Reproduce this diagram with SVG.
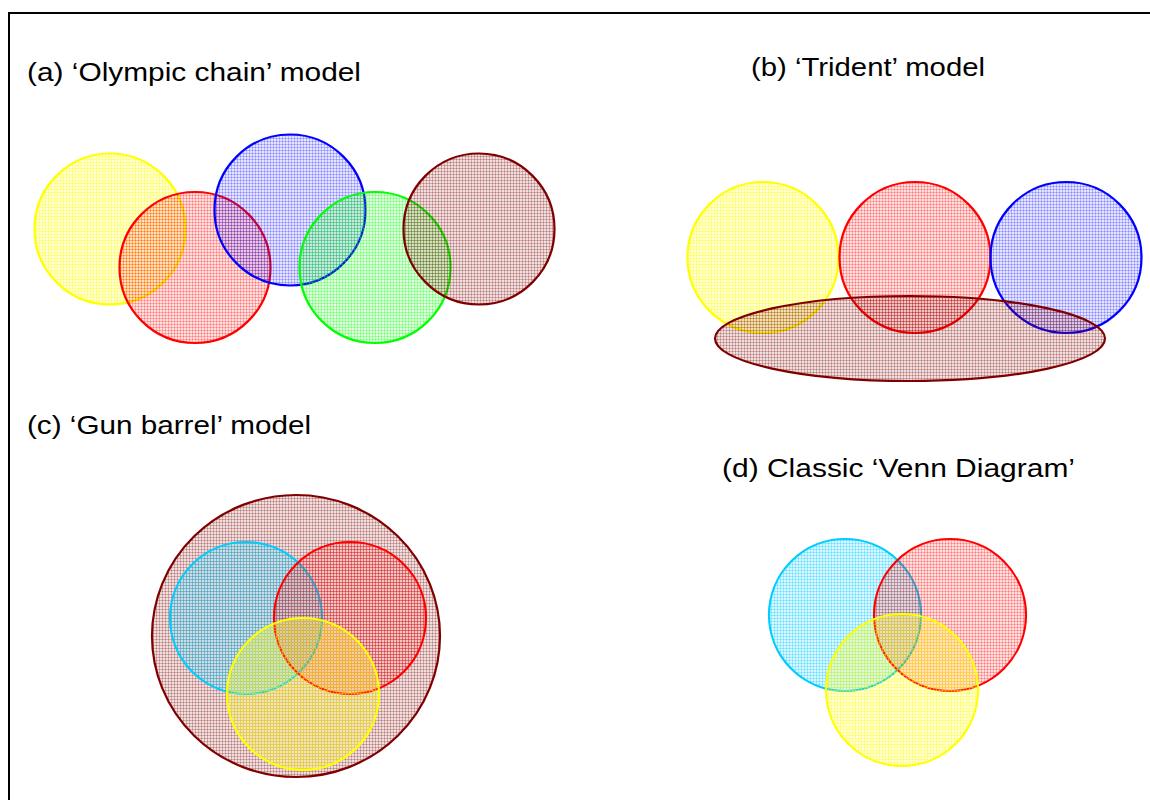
<svg xmlns="http://www.w3.org/2000/svg" width="1150" height="800" viewBox="0 0 1150 800">
<style>
  .lbl { font-family: "Liberation Sans", Arial, sans-serif; font-size: 25px; fill: #000; }
  .s { stroke-width: 2.2; }
</style>
<defs>
  <pattern id="pY" patternUnits="userSpaceOnUse" width="3" height="3">
    <rect width="3" height="3" fill="#FFFF00" fill-opacity="0.14"/>
    <path d="M0 0.5H3M0.5 0V3" stroke="#FFFF00" stroke-opacity="0.35" stroke-width="1"/>
  </pattern>
  <pattern id="pR" patternUnits="userSpaceOnUse" width="3" height="3">
    <rect width="3" height="3" fill="#FF0000" fill-opacity="0.12"/>
    <path d="M0 0.5H3M0.5 0V3" stroke="#FF0000" stroke-opacity="0.25" stroke-width="1"/>
  </pattern>
  <pattern id="pB" patternUnits="userSpaceOnUse" width="3" height="3">
    <rect width="3" height="3" fill="#0000FF" fill-opacity="0.1"/>
    <path d="M0 0.5H3M0.5 0V3" stroke="#0000FF" stroke-opacity="0.22" stroke-width="1"/>
  </pattern>
  <pattern id="pG" patternUnits="userSpaceOnUse" width="3" height="3">
    <rect width="3" height="3" fill="#00FF00" fill-opacity="0.12"/>
    <path d="M0 0.5H3M0.5 0V3" stroke="#00FF00" stroke-opacity="0.28" stroke-width="1"/>
  </pattern>
  <pattern id="pM" patternUnits="userSpaceOnUse" width="3" height="3">
    <rect width="3" height="3" fill="#800000" fill-opacity="0.12"/>
    <path d="M0 0.5H3M0.5 0V3" stroke="#800000" stroke-opacity="0.25" stroke-width="1"/>
  </pattern>
  <pattern id="pC" patternUnits="userSpaceOnUse" width="3" height="3">
    <rect width="3" height="3" fill="#00CCFF" fill-opacity="0.14"/>
    <path d="M0 0.5H3M0.5 0V3" stroke="#00CCFF" stroke-opacity="0.3" stroke-width="1"/>
  </pattern>
</defs>

<rect id="frame" x="9" y="13" width="1160" height="810" fill="#fff" stroke="#000" stroke-width="2"/>

<g id="panel-a">
  <text class="lbl" x="27" y="81" textLength="334" lengthAdjust="spacingAndGlyphs">(a) ‘Olympic chain’ model</text>
  <circle id="a-yellow" class="s" cx="110" cy="229" r="75.5" fill="url(#pY)" stroke="#FFFF00"/>
  <circle id="a-red" class="s" cx="195" cy="267.5" r="75.5" fill="url(#pR)" stroke="#FF0000"/>
  <circle id="a-blue" class="s" cx="290" cy="210" r="75.5" fill="url(#pB)" stroke="#0000FF"/>
  <circle id="a-green" class="s" cx="375" cy="267.5" r="75.5" fill="url(#pG)" stroke="#00FF00"/>
  <circle id="a-maroon" class="s" cx="479" cy="229" r="75.5" fill="url(#pM)" stroke="#800000"/>
</g>

<g id="panel-b">
  <text class="lbl" x="751" y="76" textLength="234" lengthAdjust="spacingAndGlyphs">(b) ‘Trident’ model</text>
  <circle id="b-yellow" class="s" cx="763" cy="257.5" r="75.5" fill="url(#pY)" stroke="#FFFF00"/>
  <circle id="b-red" class="s" cx="915" cy="257.5" r="75.5" fill="url(#pR)" stroke="#FF0000"/>
  <circle id="b-blue" class="s" cx="1066" cy="257.5" r="75.5" fill="url(#pB)" stroke="#0000FF"/>
  <ellipse id="b-maroon" class="s" cx="910" cy="338.5" rx="195" ry="42.5" fill="url(#pM)" stroke="#800000"/>
</g>

<g id="panel-c">
  <text class="lbl" x="27" y="434" textLength="284" lengthAdjust="spacingAndGlyphs">(c) ‘Gun barrel’ model</text>
  <ellipse id="c-maroon" class="s" cx="296" cy="636" rx="144" ry="141" fill="url(#pM)" stroke="#800000"/>
  <circle id="c-cyan" class="s" cx="246" cy="618" r="76" fill="url(#pC)" stroke="#00CCFF"/>
  <circle id="c-red" class="s" cx="350" cy="618" r="76" fill="url(#pR)" stroke="#FF0000"/>
  <circle id="c-yellow" class="s" cx="303" cy="694" r="76" fill="url(#pY)" stroke="#FFFF00"/>
</g>

<g id="panel-d">
  <text class="lbl" x="722" y="477" textLength="353" lengthAdjust="spacingAndGlyphs">(d) Classic ‘Venn Diagram’</text>
  <circle id="d-cyan" class="s" cx="845" cy="615" r="76" fill="url(#pC)" stroke="#00CCFF"/>
  <circle id="d-red" class="s" cx="950" cy="615" r="76" fill="url(#pR)" stroke="#FF0000"/>
  <circle id="d-yellow" class="s" cx="902" cy="690" r="76" fill="url(#pY)" stroke="#FFFF00"/>
</g>
</svg>
